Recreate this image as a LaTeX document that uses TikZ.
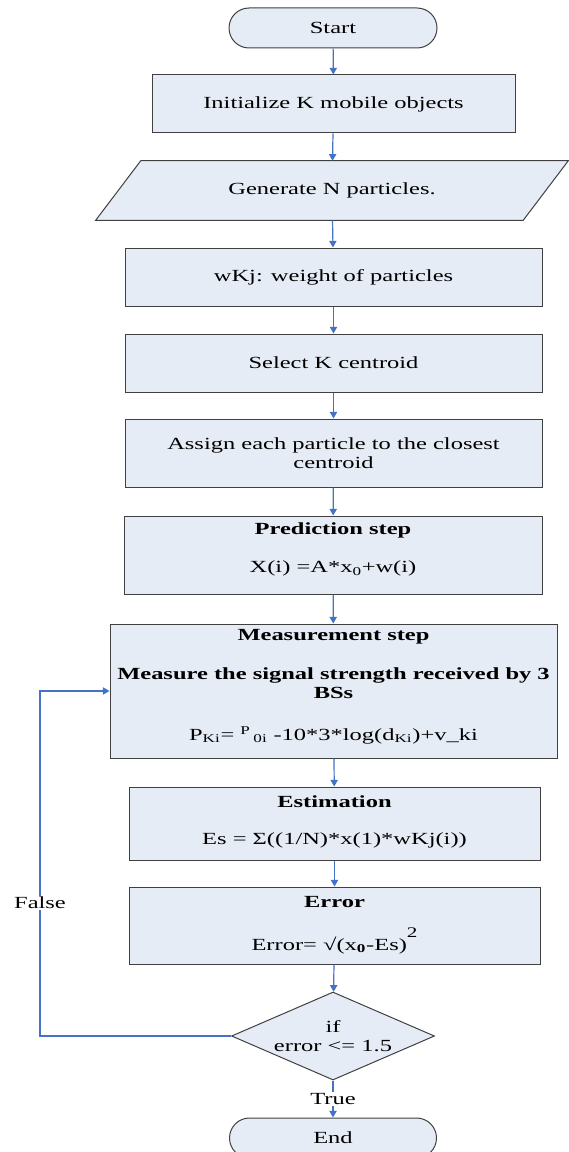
\documentclass[tikz,border=0pt]{standalone}
\usepackage{fontspec}
\setmainfont{Liberation Serif}[FakeStretch=1.44]
\usetikzlibrary{shapes.geometric,arrows.meta,backgrounds}

\definecolor{boxfill}{RGB}{230,236,246}
\definecolor{boxline}{RGB}{64,64,64}
\definecolor{flowblue}{RGB}{68,114,196}

\newcommand{\padbelow}[1]{\rule[-#1]{0pt}{0pt}}

\tikzset{
  every node/.style={font=\fontsize{12.75}{14.25}\selectfont},
  procbox/.style={draw=boxline, fill=boxfill, line width=0.75pt, inner sep=1pt, align=center},
  termbox/.style={procbox, rounded corners=15pt, minimum width=156pt, minimum height=30pt},
  decbox/.style={draw=boxline, fill=boxfill, line width=0.75pt, shape=diamond, aspect=2.3, inner sep=0pt, align=center},
  flowarr/.style={draw=flowblue, line width=0.9pt, -{Triangle[length=5pt,width=5.5pt]}},
  lbl/.style={fill=white, inner sep=1pt}
}

\begin{document}
\begin{tikzpicture}[x=0.75pt,y=0.75pt,yscale=-1,xscale=1]
\useasboundingbox (0,0) rectangle (568,1152);

%Terminator
\node[termbox] (start) at (333,28) {Start};
%Process
\node[procbox, minimum width=272.25pt, minimum height=43.5pt] (init) at (333.5,104) {Initialize K mobile objects};
%Data (parallelogram drawn behind)
\node[align=center, minimum width=320.25pt, minimum height=44.25pt] (gen) at (332,190.5) {Generate N particles.};
\begin{scope}[on background layer]
\draw[draw=boxline, fill=boxfill, line width=0.75pt] ([xshift=16.9pt]gen.north west) -- ([xshift=16.9pt]gen.north east) -- ([xshift=-16.9pt]gen.south east) -- ([xshift=-16.9pt]gen.south west) -- cycle;
\end{scope}
%Process
\node[procbox, minimum width=312.75pt, minimum height=43.5pt] (wkj) at (333.5,277) {wKj: weight of particles};
\node[procbox, minimum width=312.75pt, minimum height=43.5pt] (sel) at (333.5,363) {Select K centroid};
\node[procbox, minimum width=312.75pt, minimum height=51pt] (assign) at (333.5,453) {Assign each particle to the closest\\centroid};
\node[procbox, minimum width=313.5pt, minimum height=58.5pt] (pred) at (333,555) {\textbf{Prediction step}\\[14.25pt]X(i) =A*x\textsubscript{0}+w(i)\padbelow{10.5pt}};
\node[procbox, minimum width=335.25pt, minimum height=100.5pt] (meas) at (333.5,691) {\textbf{Measurement step}\\[15pt]\textbf{Measure the signal strength received by 3}\\\textbf{BSs}\\[17pt]P\textsubscript{Ki}= \textsuperscript{P}\,\textsubscript{0i} -10*3*log(d\textsubscript{Ki})+v\_ki\padbelow{9pt}};
\node[procbox, minimum width=308.25pt, minimum height=54.75pt] (est) at (334.5,823.5) {\textbf{Estimation}\\[13.5pt]Es = Σ((1/N)*x(1)*wKj(i))\padbelow{4.5pt}};
\node[procbox, minimum width=308.25pt, minimum height=57.75pt] (err) at (334.5,925.5) {\textbf{Error}\\[14.25pt]Error= √(x\textsubscript{\textbf{0}}-Es)\raisebox{9.5pt}{\fontsize{11}{11}\selectfont 2}\padbelow{3pt}};
%Decision
\node[decbox, minimum width=152.25pt, minimum height=66pt] (dia) at (333,1036) {if\\error <= 1.5};
%Terminator
\node[termbox, minimum width=155.25pt] (end) at (333,1138) {End};

%Connectors
\draw[flowarr] (start) -- (init);
\draw[flowarr] (init) -- (gen);
\draw[flowarr] (gen) -- (wkj);
\draw[flowarr] (wkj) -- (sel);
\draw[flowarr] (sel) -- (assign);
\draw[flowarr] (assign) -- (pred);
\draw[flowarr] (pred) -- (meas);
\draw[flowarr] (meas) -- (est);
\draw[flowarr] (est) -- (err);
\draw[flowarr] (err) -- (dia);
\draw[flowarr] (dia) -- node[lbl] (truelbl) {True} (end);

%Loop back
\coordinate (loop) at (40,691);
\draw[flowarr] (dia.west) -| (loop) -- (meas.west);
\node[lbl] (falselbl) at (40,903) {False};

\end{tikzpicture}
\end{document}
